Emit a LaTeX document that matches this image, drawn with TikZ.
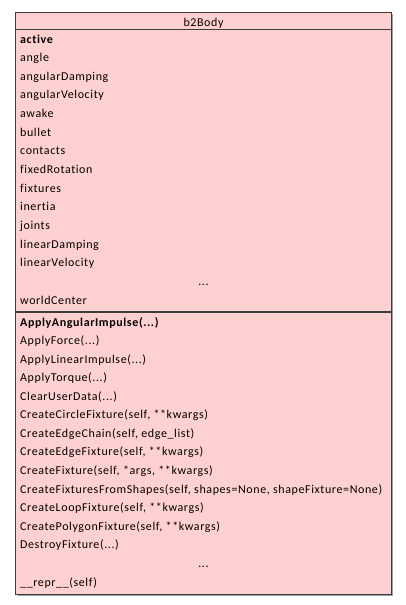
\documentclass[tikz,border=0pt]{standalone}
\usepackage{xcolor}
\usepackage{fontspec}
\setmainfont{Carlito}[LetterSpace=5, Ligatures={NoCommon,NoRare,NoContextual}]
\usepackage{tikz}
\usetikzlibrary{calc}
\definecolor{classfill}{HTML}{FFD0D0}
\definecolor{classline}{HTML}{3C3C3C}
\definecolor{classshadow}{HTML}{A0A0A0}
\newcommand{\dotargs}{(...)}
\tikzset{member/.style={anchor=base west, inner sep=0pt, font=\fontsize{12}{14}\selectfont},
         dots/.style={anchor=base, inner sep=0pt, font=\fontsize{12}{14}\selectfont}}

\begin{document}
\begin{tikzpicture}  [x=1pt, y=-1pt]
\useasboundingbox (0,0) rectangle (405,605);
\fill[classshadow] (17.5,14) rectangle (392.5,595.5);
\filldraw[classfill, draw=classline, line width=1pt] (15.5,12) rectangle (391,594);
\draw[classline, line width=.8pt] (15.5,29) -- (391,29);
\draw[classline, line width=1.3pt] (15.5,312) -- (391,312);
\node[dots] (title) at (203.5,26.3) {b2Body};
% attributes
\foreach \name [count=\i, evaluate=\i as \yi using 43+(\i-1)*18.65] in {\textbf{active},angle,angularDamping,angularVelocity,awake,bullet,contacts,fixedRotation,fixtures,inertia,joints,linearDamping,linearVelocity}
  \node[member] (attr\i) at (20,\yi) {\name};
\node[dots] (attrdots) at (203.5,285) {...};
\node[member] (attr14) at (20,304) {worldCenter};
% methods
\foreach \name [count=\i, evaluate=\i as \yi using 326+(\i-1)*18.57] in {\textbf{ApplyAngularImpulse\dotargs},ApplyForce\dotargs,ApplyLinearImpulse\dotargs,ApplyTorque\dotargs,ClearUserData\dotargs,{CreateCircleFixture(self, **kwargs)},{CreateEdgeChain(self, edge\_list)},{CreateEdgeFixture(self, **kwargs)},{CreateFixture(self, *args, **kwargs)},{CreateFixturesFromShapes(self, shapes=None, shapeFixture=None)},{CreateLoopFixture(self, **kwargs)},{CreatePolygonFixture(self, **kwargs)},DestroyFixture\dotargs}
  \node[member] (meth\i) at (20,\yi) {\name};
\node[dots] (methdots) at (203.5,567) {...};
\node[member] (meth14) at (20,586) {\_\_repr\_\_(self)};
\end{tikzpicture}
\end{document}
